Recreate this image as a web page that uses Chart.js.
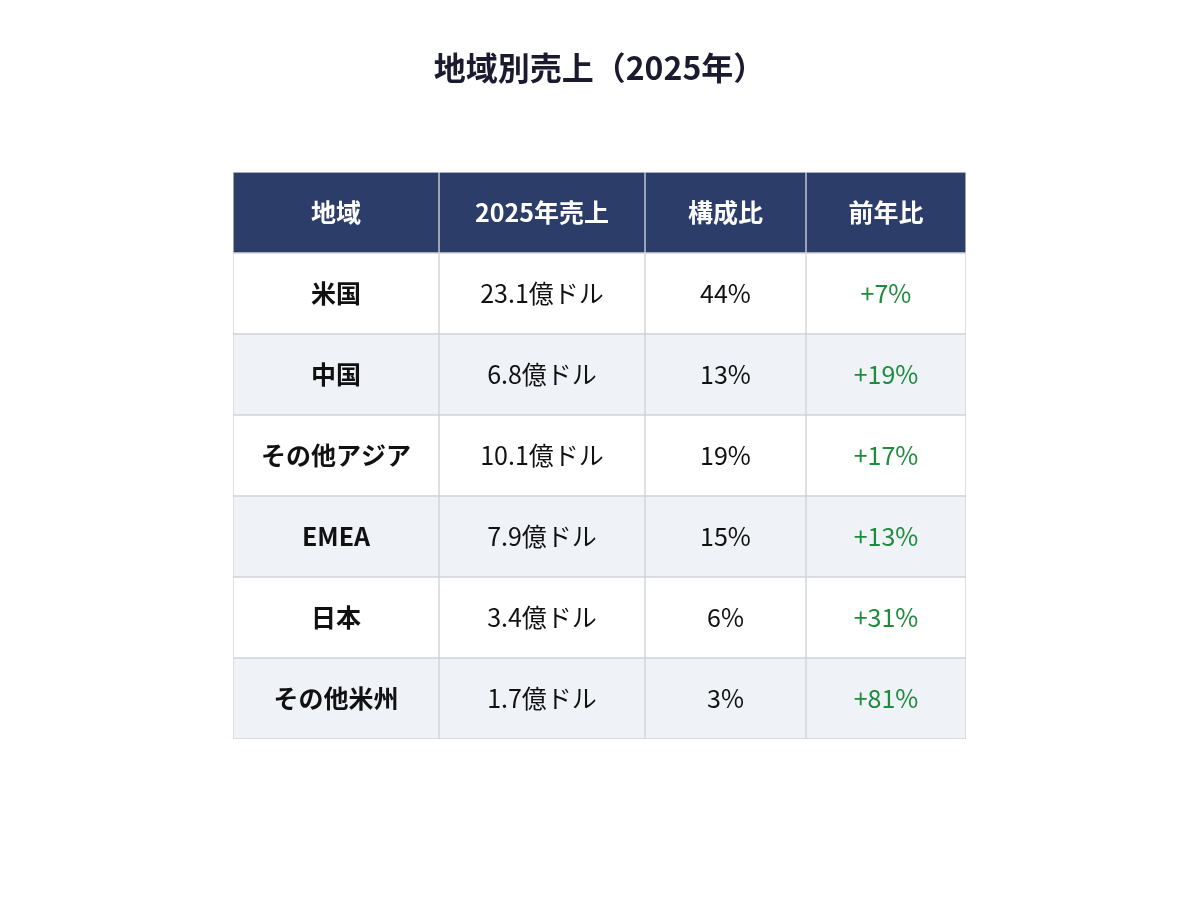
<!DOCTYPE html>
<html>
<head>
<meta charset="utf-8">
<script src="https://cdn.jsdelivr.net/npm/chart.js@4"></script>
<style>
  html, body { margin: 0; padding: 0; background: #ffffff; }
  #wrap { width: 1200px; height: 911px; }
</style>
</head>
<body>
<div id="wrap"><canvas id="tabla"></canvas></div>
<script>
// ---------------- データ ----------------
const headers = ["地域", "2025年売上", "構成比", "前年比"];
const regions = ["米国", "中国", "その他アジア", "EMEA", "日本", "その他米州"];
const sales = [23.1, 6.8, 10.1, 7.9, 3.4, 1.7];   // 億ドル
const share = [44, 13, 19, 15, 6, 3];             // %
const yoy = [7, 19, 17, 13, 31, 81];              // 前年比 %

// ---------------- レイアウト ----------------
const colEdges = [0, 206, 412, 573, 733];   // 列の境界 (x軸の単位)
const FONT = "'Noto Sans CJK JP', 'Noto Sans', sans-serif";
const NAVY = "#2c3d69";
const STRIPE = "#eff3f8";
const GRID = "#d0d3d9";

const rowLabels = ["header"].concat(regions);

// 各セルの文字列
function cellText(col, row) {
    if (row === 0) return headers[col];
    const i = row - 1;
    if (col === 0) return regions[i];
    if (col === 1) return sales[i].toFixed(1) + "億ドル";
    if (col === 2) return share[i] + "%";
    return "+" + yoy[i] + "%";
}

function rowColor(row) {
    if (row === 0) return NAVY;
    return row % 2 === 0 ? STRIPE : "#ffffff";
}

const datasets = headers.map(function (h, c) {
    return {
        label: h,
        data: rowLabels.map(function () { return [colEdges[c], colEdges[c + 1]]; }),
        backgroundColor: rowLabels.map(function (r, i) { return rowColor(i); }),
        borderColor: GRID,
        borderWidth: 1,
        borderSkipped: false,
        barPercentage: 1,
        categoryPercentage: 1,
        grouped: false
    };
});

// セルの文字を描く
const cellLabels = {
    id: "cellLabels",
    afterDatasetsDraw(chart) {
        const ctx = chart.ctx;
        ctx.save();
        ctx.textAlign = "center";
        ctx.textBaseline = "middle";
        chart.data.datasets.forEach(function (ds, c) {
            chart.getDatasetMeta(c).data.forEach(function (bar, r) {
                const cx = (bar.x + bar.base) / 2;
                let weight = "normal", color = "#111111";
                if (r === 0) { weight = "bold"; color = "#ffffff"; }
                else if (c === 0) { weight = "bold"; }
                else if (c === 3) { color = "#1e8b3d"; }
                ctx.font = weight + " 25px " + FONT;
                ctx.fillStyle = color;
                ctx.fillText(cellText(c, r), cx, bar.y);
            });
        });
        ctx.restore();
    }
};

let tabla = new Chart(document.getElementById("tabla"), {
    type: "bar",
    data: {
        labels: rowLabels,
        datasets: datasets
    },
    options: {
        indexAxis: "y",
        responsive: true,
        maintainAspectRatio: false,
        animation: false,
        layout: {
            padding: { left: 233, right: 234, top: 0, bottom: 172 }
        },
        scales: {
            x: { type: "linear", min: 0, max: 733, display: false },
            y: { type: "category", display: false }
        },
        plugins: {
            legend: { display: false },
            tooltip: { enabled: false },
            title: {
                display: true,
                text: "地域別売上（2025年）",
                color: "#1b1b30",
                font: { family: FONT, size: 32, weight: "bold", lineHeight: 1.2 },
                padding: { top: 49, bottom: 84.6 }
            }
        }
    },
    plugins: [cellLabels]
});
</script>
</body>
</html>
